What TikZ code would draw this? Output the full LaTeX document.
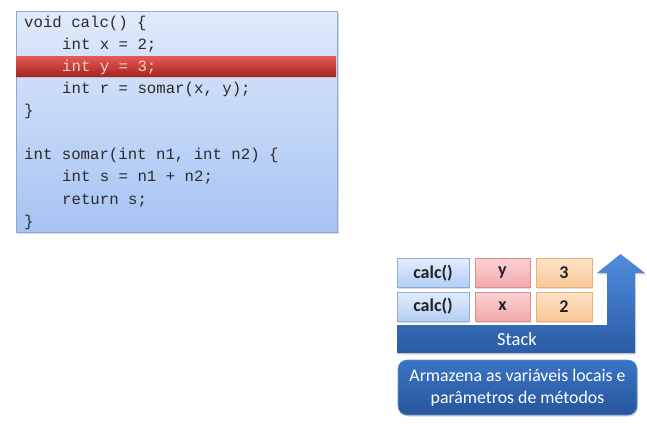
\documentclass[tikz,border=0pt]{standalone}
\usepackage{fontspec}
\setmainfont{Carlito}
\setmonofont{Liberation Mono}
\usetikzlibrary{shadows}
\definecolor{codetop}{HTML}{E0EAFB}
\definecolor{codebot}{HTML}{A6C3F3}
\definecolor{codeborder}{HTML}{8FA9D3}
\definecolor{codetext}{HTML}{2A2A2A}
\definecolor{hltop}{HTML}{E35A55}
\definecolor{hlbot}{HTML}{A82420}
\definecolor{hltext}{HTML}{F6CFC8}
\definecolor{calctop}{HTML}{E3EDFC}
\definecolor{calcbot}{HTML}{B3CDF5}
\definecolor{calcborder}{HTML}{8CAEE0}
\definecolor{vartop}{HTML}{FBD2D4}
\definecolor{varbot}{HTML}{F1A9AD}
\definecolor{varborder}{HTML}{DE8A8E}
\definecolor{numtop}{HTML}{FDE2C8}
\definecolor{numbot}{HTML}{F9C797}
\definecolor{numborder}{HTML}{EBAE74}
\definecolor{stacktop}{HTML}{4F8DDD}
\definecolor{stackbot}{HTML}{2A5BA6}
\definecolor{desctop}{HTML}{3A74C4}
\definecolor{descbot}{HTML}{28569C}
\definecolor{cellink}{HTML}{222222}
\tikzset{
  codeline/.style={anchor=base west, inner sep=0pt, font=\ttfamily\fontsize{15.7}{18}\selectfont, text=codetext},
  cell/.style={draw, line width=0.8pt, minimum height=29pt, inner sep=0pt,
    font=\bfseries\fontsize{18}{20}\selectfont, text=cellink,
    drop shadow={shadow xshift=1pt, shadow yshift=-1.5pt, opacity=0.25}},
  calccell/.style={cell, minimum width=72pt, shading=axis, top color=calctop, bottom color=calcbot, draw=calcborder},
  varcell/.style={cell, minimum width=55pt, shading=axis, top color=vartop, bottom color=varbot, draw=varborder},
  numcell/.style={cell, minimum width=56pt, shading=axis, top color=numtop, bottom color=numbot, draw=numborder},
}
\begin{document}
\begin{tikzpicture}[x=1pt,y=-1pt]
\path[fill=white] (0,0) rectangle (647,424);
\useasboundingbox (0,0) rectangle (647,424);
% code box
\node[draw=codeborder, line width=0.8pt, shading=axis, top color=codetop, bottom color=codebot,
  minimum width=321pt, minimum height=221pt, inner sep=0pt,
  drop shadow={shadow xshift=1.5pt, shadow yshift=-1.5pt, opacity=0.3}] (code) at (176.5,121.5) {};
\node[shading=axis, top color=hltop, bottom color=hlbot, minimum width=320pt, minimum height=20pt, inner sep=0pt,
  drop shadow={shadow xshift=0pt, shadow yshift=-1.5pt, opacity=0.3}] (hl) at (176,66.5) {};
\node[codeline] (l1) at (24,27.5) {void calc() \{};
\node[codeline] (l2) at (62,49.5) {int x = 2;};
\node[codeline, text=hltext] (l3) at (62,71.8) {int y = 3;};
\node[codeline] (l4) at (62,93.5) {int r = somar(x, y);};
\node[codeline] (l5) at (24,115.5) {\}};
\node[codeline] (l6) at (24,159.5) {int somar(int n1, int n2) \{};
\node[codeline] (l7) at (62,181.8) {int s = n1 + n2;};
\node[codeline] (l8) at (62,204) {return s;};
\node[codeline] (l9) at (24,226.5) {\}};
% stack arrow
\path[shading=axis, top color=stacktop, bottom color=stackbot,
  drop shadow={shadow xshift=1pt, shadow yshift=-1.5pt, opacity=0.3}]
  (397,325) -- (607,325) -- (607,273) -- (597,273) -- (620.5,254) -- (645,273) -- (635,273) -- (635,353) -- (397,353) -- cycle;
\node[text=white, font=\fontsize{18.5}{20}\selectfont, inner sep=0pt] (stk) at (517,339) {Stack};
% cells
\node[calccell] (c1) at (433,273) {calc()};
\node[varcell] (v1) at (502.5,273) {y};
\node[numcell] (n1) at (564,273) {3};
\node[calccell] (c2) at (433,306.5) {calc()};
\node[varcell] (v2) at (502.5,306.5) {x};
\node[numcell] (n2) at (564,306.5) {2};
% description
\node[draw=desctop!80!white, line width=0.6pt, rounded corners=9pt, shading=axis, top color=desctop, bottom color=descbot,
  minimum width=239pt, minimum height=55pt, inner sep=0pt, align=center, text=white,
  font=\fontsize{17.8}{21.5}\selectfont,
  drop shadow={shadow xshift=1pt, shadow yshift=-1.5pt, opacity=0.3}] (desc) at (517.5,387.5)
  {Armazena as variáveis locais e\\parâmetros de métodos};
\end{tikzpicture}
\end{document}
